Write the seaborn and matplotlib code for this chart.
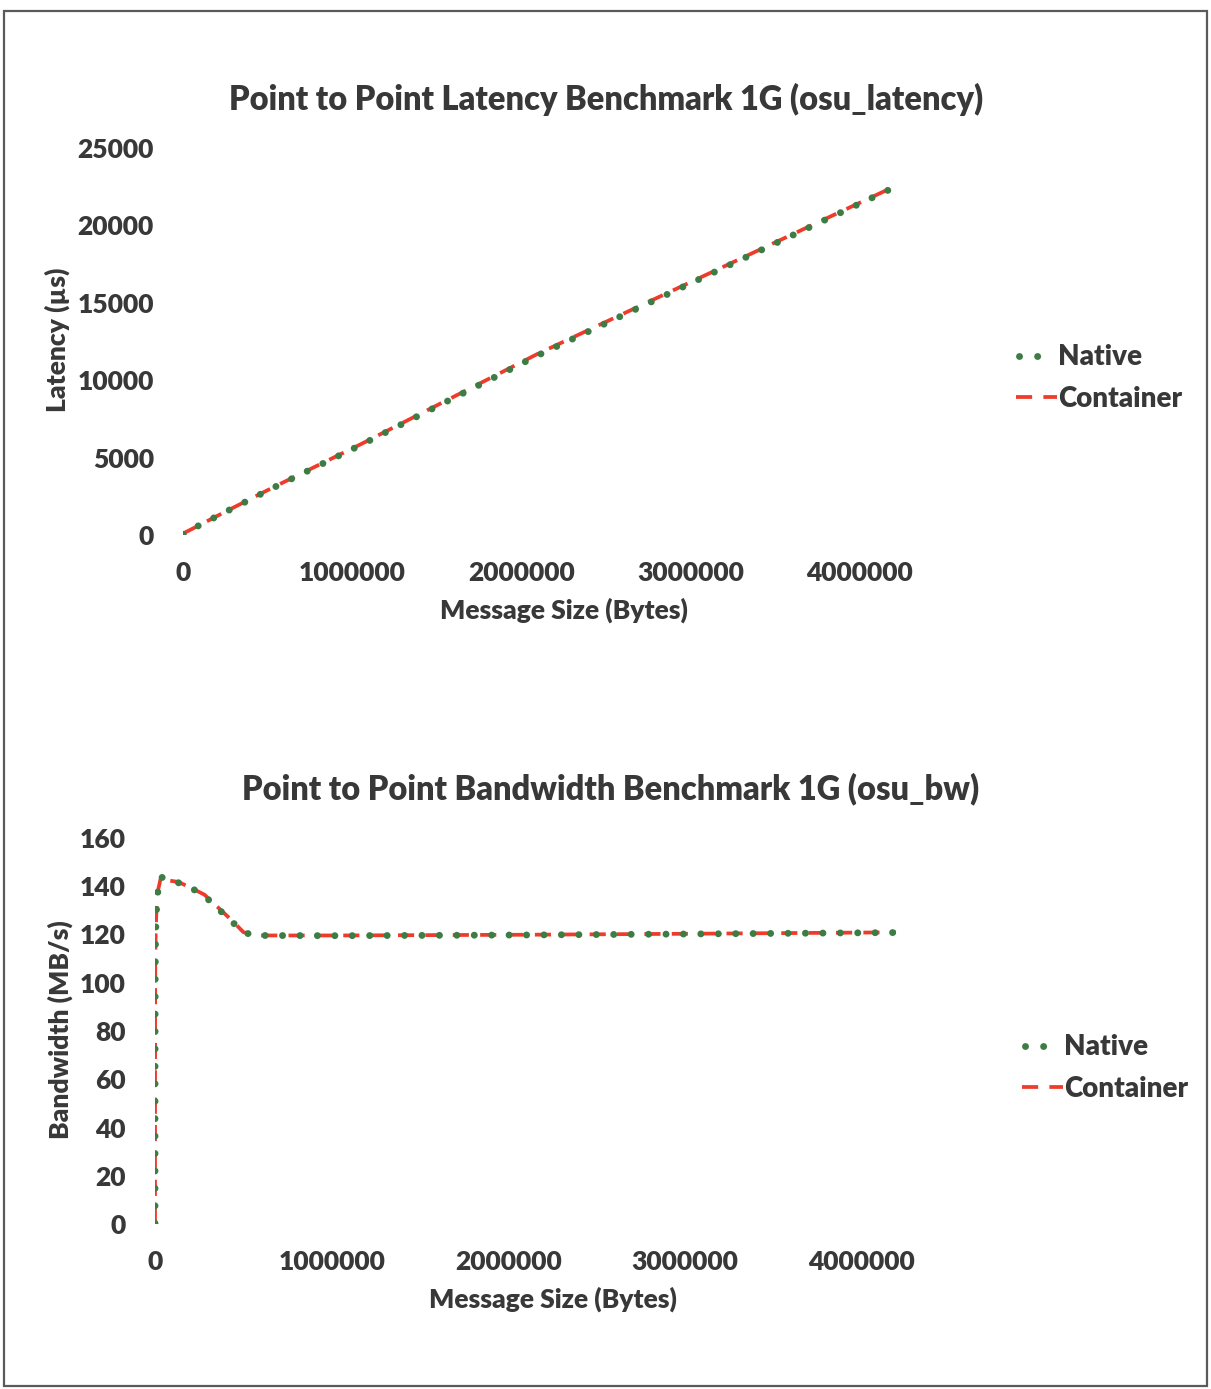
import numpy as np
import pandas as pd
import matplotlib
matplotlib.use("Agg")
import matplotlib.pyplot as plt
from matplotlib.patches import Rectangle
import seaborn as sns

# ---- data -------------------------------------------------------------
# osu_latency: message size (bytes) vs latency (us)
lat_sizes = [0, 1, 2, 4, 8, 16, 32, 64, 128, 256, 512, 1024, 2048, 4096,
             8192, 16384, 32768, 65536, 131072, 262144, 524288, 1048576,
             2097152, 4194304]
lat_native = [45, 46, 46, 46, 47, 47, 48, 49, 52, 55, 58, 62, 75, 95,
              130, 180, 270, 450, 820, 1550, 3000, 5800, 11600, 22400]
lat_container = [48, 49, 49, 49, 50, 50, 51, 52, 55, 58, 61, 65, 78, 98,
                 134, 185, 276, 458, 830, 1570, 3030, 5850, 11700, 22450]

# osu_bw: message size (bytes) vs bandwidth (MB/s)
bw_sizes = [1, 2, 4, 8, 16, 32, 64, 128, 256, 512, 1024, 2048, 4096,
            8192, 16384, 32768, 65536, 131072, 200000, 280000, 360000,
            440000, 500000, 560000, 1048576, 2097152, 3000000, 4194304]
bw_native = [0.3, 0.6, 1.2, 2.4, 4.8, 9.5, 18, 33, 55, 80, 100, 113, 122,
             130, 138, 144, 142.5, 141.5, 139.5, 136, 130.5, 125, 121,
             119.6, 119.5, 119.8, 120.2, 120.8]
bw_container = [0.3, 0.6, 1.2, 2.4, 4.7, 9.4, 18, 33, 55, 80, 100, 113, 122,
                130, 138, 143.5, 142.5, 141.8, 139.5, 136.5, 131, 125.5, 121,
                119.6, 119.6, 119.9, 120.3, 120.9]

x_ticks = [0, 1000000, 2000000, 3000000, 4000000]

# ---- styling ----------------------------------------------------------
sns.set_theme(style="white")
plt.rcParams["font.family"] = ["Lato", "DejaVu Sans"]
text_col = "#383838"
green = "#3d7d45"
red = "#ef3b2a"
WEIGHT = "heavy"

NATIVE_LS = (0, (0.01, 2.5))
CONTAINER_LS = (0, (4.3, 3.0))
# legend key for Native: two dots only
NATIVE_KEY_LS = (12.19, (0.01, 2.6, 0.01, 10.0))

W, H = 1211, 1389
fig = plt.figure(figsize=(W / 100, H / 100), dpi=100)
fig.patch.set_facecolor("white")


def px_axes(left, right, top, bottom):
    return fig.add_axes([left / W, 1 - bottom / H, (right - left) / W,
                         (bottom - top) / H])


def draw_panel(ax, sizes, native, container, ymax, ystep, title, ylabel,
               title_xy, legend_xy, ylabel_xy):
    df = pd.DataFrame({"size": sizes * 2,
                       "value": container + native,
                       "series": ["Container"] * len(sizes) + ["Native"] * len(sizes)})
    sns.lineplot(data=df[df.series == "Container"], x="size", y="value",
                 ax=ax, color=red, lw=2.7, estimator=None, sort=False,
                 linestyle=CONTAINER_LS, dash_capstyle="butt",
                 label="Container", zorder=2)
    sns.lineplot(data=df[df.series == "Native"], x="size", y="value",
                 ax=ax, color=green, lw=5.0, estimator=None, sort=False,
                 linestyle=NATIVE_LS, dash_capstyle="round",
                 label="Native", zorder=3)
    ax.set_xlim(0, 4500000)
    ax.set_ylim(0, ymax)
    yt = np.arange(0, ymax + 1, ystep)
    ax.set_xticks(x_ticks)
    ax.set_xticklabels([str(v) for v in x_ticks])
    ax.set_yticks(yt)
    ax.set_yticklabels([str(int(v)) for v in yt])
    for s in ax.spines.values():
        s.set_visible(False)
    ax.tick_params(axis="both", length=0, labelsize=19, labelcolor=text_col)
    ax.tick_params(axis="y", pad=21)
    ax.tick_params(axis="x", pad=19)
    for lab in ax.get_xticklabels() + ax.get_yticklabels():
        lab.set_fontweight(WEIGHT)
    ax.set_xlabel("Message Size (Bytes)", fontsize=19, fontweight=WEIGHT,
                  color=text_col, labelpad=9)
    ax.set_ylabel("")
    ax.grid(False)
    handles, labels = ax.get_legend_handles_labels()
    order = [labels.index("Native"), labels.index("Container")]
    leg = ax.legend([handles[i] for i in order], [labels[i] for i in order],
                    loc="center left",
                    bbox_to_anchor=(legend_xy[0] / W, 1 - legend_xy[1] / H),
                    bbox_transform=fig.transFigure, frameon=False,
                    fontsize=20, handlelength=1.48, handletextpad=0.05,
                    labelspacing=0.55, borderpad=0.0, borderaxespad=0.0)
    for t in leg.get_texts():
        t.set_fontweight(WEIGHT)
        t.set_color(text_col)
    for line, lab in zip(leg.get_lines(), leg.get_texts()):
        if lab.get_text() == "Native":
            line.set_linestyle(NATIVE_KEY_LS)
    fig.text(title_xy[0] / W, 1 - title_xy[1] / H, title, ha="center",
             va="center", fontsize=23.5, fontweight=WEIGHT, color=text_col)
    fig.text(ylabel_xy[0] / W, 1 - ylabel_xy[1] / H, ylabel, rotation=90,
             ha="center", va="center", fontsize=19, fontweight=WEIGHT,
             color=text_col)
    return ax


ax1 = px_axes(183, 944, 148, 535)
draw_panel(ax1, lat_sizes, lat_native, lat_container, 25000, 5000,
           "Point to Point Latency Benchmark 1G (osu_latency)",
           "Latency (µs)", (606, 99), (1016, 378), (57, 340))

ax2 = px_axes(155, 950, 838, 1224)
draw_panel(ax2, bw_sizes, bw_native, bw_container, 160, 20,
           "Point to Point Bandwidth Benchmark 1G (osu_bw)",
           "Bandwidth (MB/s)", (611, 789), (1022, 1068), (60, 1030))

# outer chart border
fig.patches.append(Rectangle((4 / W, 1 - 1386 / H), 1203 / W, 1375 / H,
                             transform=fig.transFigure, fill=False,
                             edgecolor="#5a5a5a", lw=1.6))

fig.savefig("out.png", dpi=100, facecolor="white")
